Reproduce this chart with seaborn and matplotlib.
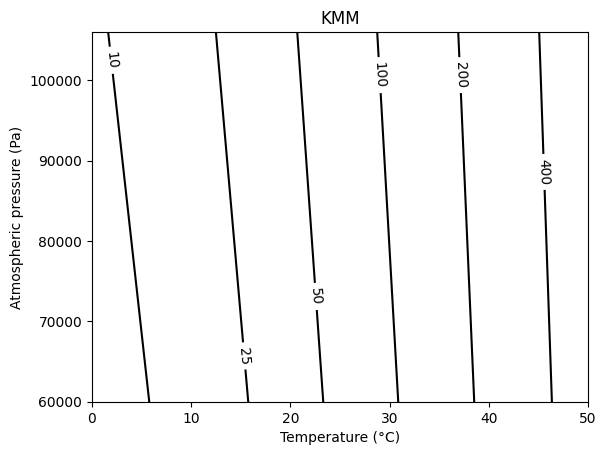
import pandas as pd
import matplotlib
matplotlib.use('Agg')
import matplotlib.pyplot as plt
import seaborn as sns
import numpy as np

levels = [10, 25, 50, 100, 200, 400]
# temperature where each contour meets the top (106000 Pa) and bottom (60000 Pa) of the plot
temp_top = [1.64, 12.5, 20.7, 28.76, 36.93, 45.09]
temp_bottom = [5.78, 15.76, 23.32, 30.88, 38.54, 46.37]
pressure_top = 106000
pressure_bottom = 60000
# pressure at which each contour label sits
label_pressure = [102500, 65700, 73100, 100650, 100650, 88600]

rows = []
for lev, t0, t1 in zip(levels, temp_top, temp_bottom):
    rows.append({'level': lev, 'Temperature': t0, 'Pressure': pressure_top})
    rows.append({'level': lev, 'Temperature': t1, 'Pressure': pressure_bottom})
df = pd.DataFrame(rows)

fig, ax = plt.subplots(figsize=(6.4, 4.8), dpi=100)
sns.lineplot(data=df, x='Temperature', y='Pressure', units='level', estimator=None,
             color='black', linewidth=1.5, sort=False, legend=False, ax=ax)
ax.set_xlim(0, 50)
ax.set_ylim(pressure_bottom, pressure_top)
ax.set_yticks([60000, 70000, 80000, 90000, 100000])
ax.set_xlabel('Temperature (°C)')
ax.set_ylabel('Atmospheric pressure (Pa)')
ax.set_title('KMM')

fig.canvas.draw()
for lev, t0, t1, py in zip(levels, temp_top, temp_bottom, label_pressure):
    tx = np.interp(py, [pressure_bottom, pressure_top], [t1, t0])
    p0 = ax.transData.transform((t0, pressure_top))
    p1 = ax.transData.transform((t1, pressure_bottom))
    ang = np.degrees(np.arctan2(p1[1] - p0[1], p1[0] - p0[0]))
    ax.text(tx, py, str(lev), rotation=ang, rotation_mode='anchor', ha='center', va='center',
            fontsize=10, bbox=dict(boxstyle='square,pad=0.35', fc='white', ec='none'))

plt.savefig('out.png', dpi=100, bbox_inches='tight')
